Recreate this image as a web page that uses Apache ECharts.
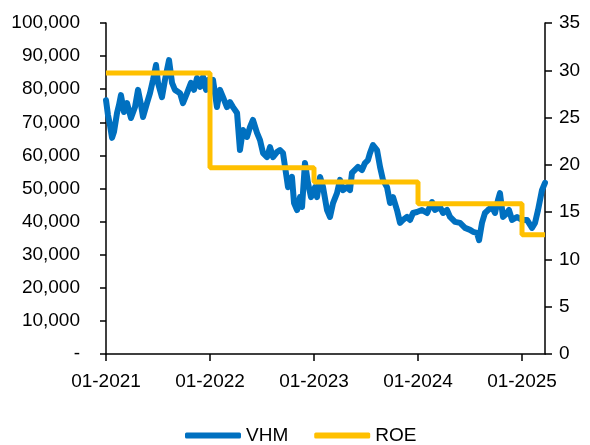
<!DOCTYPE html>
<html>
<head>
<meta charset="utf-8">
<script src="https://cdn.jsdelivr.net/npm/echarts@6/dist/echarts.min.js"></script>
<style>html,body{margin:0;padding:0;background:#fff}#c{width:590px;height:445px}</style>
</head>
<body>
<div id="c"></div>
<script>
// Time expressed as decimal years
var vhmTime = [2021.000,2021.019,2021.038,2021.058,2021.077,2021.106,2021.125,2021.144,2021.173,2021.202,
2021.240,2021.279,2021.308,2021.337,2021.356,2021.394,2021.423,2021.452,2021.481,2021.500,
2021.538,2021.567,2021.606,2021.635,2021.663,2021.712,2021.740,2021.779,2021.817,2021.846,
2021.875,2021.904,2021.933,2021.962,2021.981,2022.000,2022.029,2022.067,2022.096,2022.125,
2022.163,2022.192,2022.221,2022.260,2022.288,2022.317,2022.356,2022.385,2022.413,2022.452,
2022.481,2022.510,2022.548,2022.577,2022.606,2022.644,2022.673,2022.702,2022.740,2022.750,
2022.788,2022.808,2022.837,2022.865,2022.885,2022.913,2022.942,2022.971,2023.010,2023.029,
2023.058,2023.087,2023.125,2023.154,2023.183,2023.221,2023.250,2023.279,2023.317,2023.346,
2023.365,2023.394,2023.423,2023.462,2023.490,2023.519,2023.538,2023.567,2023.606,2023.635,
2023.663,2023.702,2023.731,2023.760,2023.798,2023.827,2023.856,2023.894,2023.923,2023.952,
2023.990,2024.038,2024.087,2024.135,2024.163,2024.212,2024.240,2024.279,2024.308,2024.356,
2024.404,2024.452,2024.500,2024.529,2024.567,2024.587,2024.615,2024.644,2024.673,2024.712,
2024.740,2024.769,2024.788,2024.817,2024.856,2024.875,2024.904,2024.952,2025.000,2025.048,
2025.096,2025.125,2025.154,2025.192,2025.221];
var vhmValues = [76700,72200,69200,65300,67100,72800,75200,78200,73100,75800,
71300,74600,79800,75200,71600,75800,78800,82800,87300,81900,
77600,82800,88800,81900,79800,78800,75800,78800,81900,79800,
83400,80700,83700,79800,82800,81300,82800,74600,79800,77600,
74600,76100,74600,72800,61600,67700,65600,68600,70700,66800,
64600,60700,59500,62500,59500,61000,61600,60700,52600,50400,
53500,45600,43500,47400,44400,57700,51700,47400,50400,47400,
53500,50400,43500,41400,45600,48600,52600,49500,50400,49500,
54700,55600,56500,55600,57700,58600,60700,63100,61600,56500,
52600,50400,45600,47400,43500,39600,40500,41400,40500,42600,
42900,43500,42600,45900,43500,44400,42600,43500,41400,39900,
39600,38100,37500,36900,36600,34400,39600,42600,43500,44400,
42600,46500,48600,41400,42600,43500,40500,41400,40500,40500,
38100,39600,43500,49500,51700];
var roeTime = [2021, 2022, 2023, 2024, 2025, 2025.221];
var roeValues = [29.7, 19.7, 18.2, 15.9, 12.6, 12.6];
var xTickYears = [2021, 2022, 2023, 2024, 2025];
var seriesNames = ['VHM', 'ROE'];

function zip(a, b) { return a.map(function (v, i) { return [v, b[i]]; }); }

var FONT = 'Liberation Sans, Arial, sans-serif';
var chart = echarts.init(document.getElementById('c'), null, { renderer: 'canvas' });
chart.setOption({
  animation: false,
  textStyle: { fontFamily: FONT },
  grid: { left: 106, right: 45, top: 23, bottom: 91, containLabel: false },
  legend: {
    data: [{ name: seriesNames[0], icon: 'roundRect' }, { name: seriesNames[1], icon: 'roundRect' }],
    left: 180, top: 421,
    itemWidth: 56, itemHeight: 6, itemGap: 26,
    textStyle: { fontSize: 19, color: '#000', fontFamily: FONT, padding: [0, 0, 0, 0] }
  },
  xAxis: {
    type: 'value', min: 2021, max: 2025.221, interval: 1,
    axisLine: { onZero: false, lineStyle: { color: '#000', width: 1.5 } },
    axisTick: { show: true, length: 7, lineStyle: { color: '#000', width: 1.5 }, customValues: xTickYears },
    axisLabel: {
      fontSize: 19, color: '#000', margin: 18, fontFamily: FONT,
      customValues: xTickYears,
      formatter: function (v) { return '01-' + Math.round(v); }
    },
    splitLine: { show: false }
  },
  yAxis: [{
    type: 'value', min: 0, max: 100000, interval: 10000,
    axisLine: { show: true, lineStyle: { color: '#000', width: 1.5 } },
    axisTick: { show: true, length: 6, lineStyle: { color: '#000', width: 1.5 } },
    axisLabel: {
      fontSize: 19, color: '#000', margin: 26, fontFamily: FONT,
      formatter: function (v) { return v === 0 ? '-' : v.toLocaleString('en-US'); }
    },
    splitLine: { show: false }
  }, {
    type: 'value', min: 0, max: 35, interval: 5, position: 'right',
    axisLine: { show: true, lineStyle: { color: '#000', width: 1.5 } },
    axisTick: { show: true, length: 7, lineStyle: { color: '#000', width: 1.5 } },
    axisLabel: { fontSize: 19, color: '#000', margin: 14, fontFamily: FONT },
    splitLine: { show: false }
  }],
  series: [{
    name: seriesNames[0], type: 'line', yAxisIndex: 0, showSymbol: false, symbol: 'none',
    data: zip(vhmTime, vhmValues),
    lineStyle: { color: '#0070C0', width: 6, join: 'round', cap: 'round' },
    itemStyle: { color: '#0070C0' }, z: 2
  }, {
    name: seriesNames[1], type: 'line', yAxisIndex: 1, showSymbol: false, symbol: 'none', step: 'end',
    data: zip(roeTime, roeValues),
    lineStyle: { color: '#FFC000', width: 5 },
    itemStyle: { color: '#FFC000' }, z: 3
  }]
});
</script>
</body>
</html>
